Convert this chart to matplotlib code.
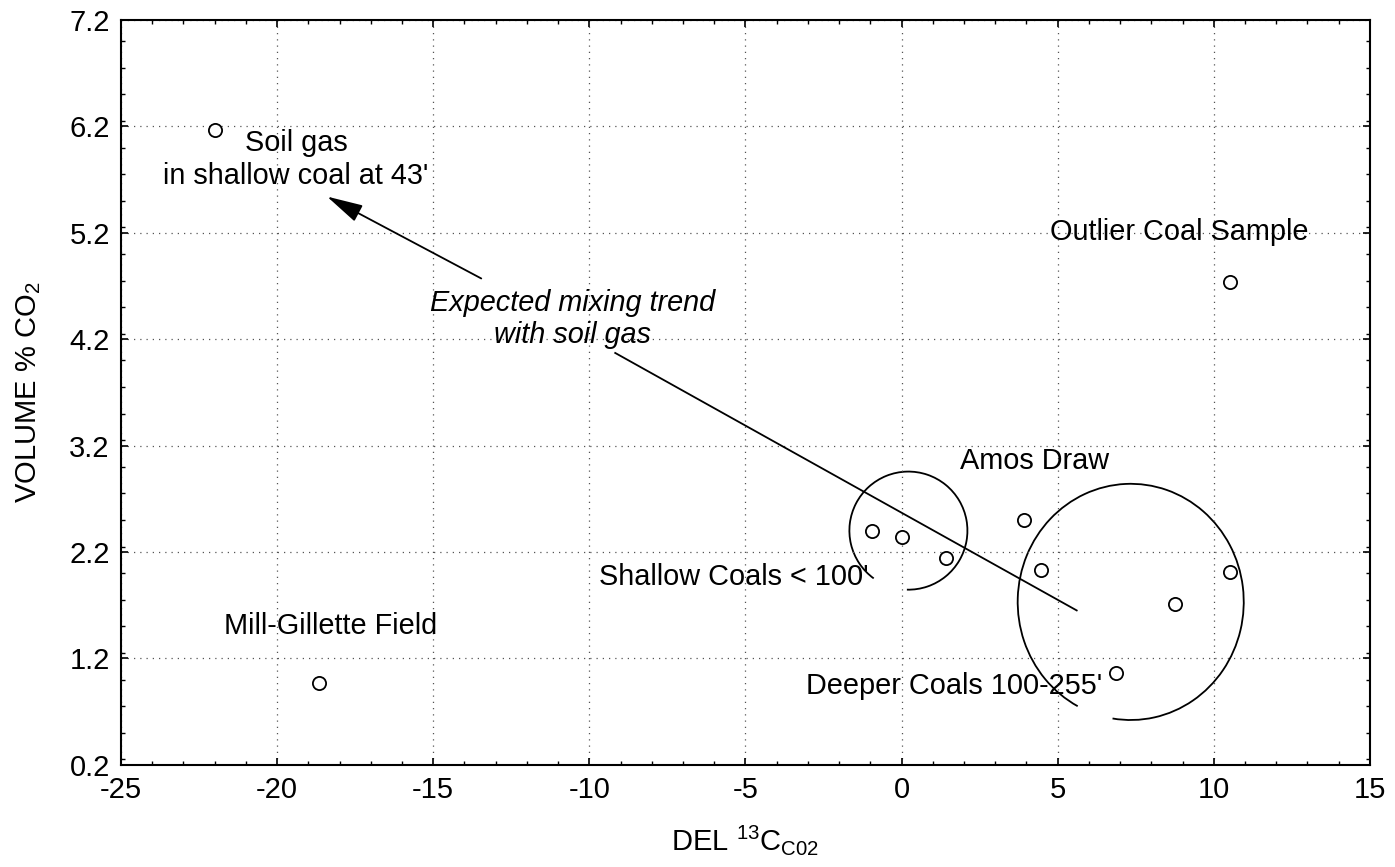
import matplotlib
matplotlib.use("Agg")
import matplotlib.pyplot as plt
from matplotlib.patches import Arc
from matplotlib.ticker import MultipleLocator

plt.rcParams['font.family'] = ['Liberation Sans', 'DejaVu Sans']
plt.rcParams['mathtext.fontset'] = 'custom'
plt.rcParams['mathtext.rm'] = 'Liberation Sans'
plt.rcParams['mathtext.it'] = 'Liberation Sans:italic'

# data: delta 13C of CO2 and volume % CO2
del13c = [-22.0, -18.65, -0.93, 0.0, 1.41, 3.91, 4.46, 6.86, 8.75, 10.51, 10.51]
vol_co2 = [6.17, 0.97, 2.40, 2.34, 2.14, 2.50, 2.03, 1.06, 1.71, 2.01, 4.74]

x_ticks = [-25, -20, -15, -10, -5, 0, 5, 10, 15]
y_ticks = [0.2, 1.2, 2.2, 3.2, 4.2, 5.2, 6.2, 7.2]

fig = plt.figure(figsize=(13.95, 8.67), dpi=100)
ax = fig.add_axes([0.0867, 0.118, 0.8953, 0.859])

ax.plot(del13c, vol_co2, linestyle='none', marker='o', markersize=9.5,
        markerfacecolor='white', markeredgecolor='black', markeredgewidth=1.3, zorder=5)

ax.set_xlim(-25, 15)
ax.set_ylim(0.2, 7.2)
ax.set_xticks(x_ticks)
ax.set_yticks(y_ticks)
ax.set_xticklabels([str(v) for v in x_ticks])
ax.set_yticklabels([f"{v:.1f}" for v in y_ticks])
ax.xaxis.set_minor_locator(MultipleLocator(1))
ax.yaxis.set_minor_locator(MultipleLocator(0.25))
ax.tick_params(which='both', direction='in', top=True, right=True, labelsize=21, color='black')
ax.tick_params(which='major', length=5, width=1.2, pad=8)
ax.tick_params(which='minor', length=3, width=1.0)
for s in ax.spines.values():
    s.set_linewidth(1.5)
ax.grid(True, which='major', linestyle=(0, (1, 4)), color='#555555', linewidth=0.9)

ax.set_xlabel(r"DEL $^{13}$C$_{\mathrm{C02}}$", fontsize=21, labelpad=14)
ax.set_ylabel(r"VOLUME % CO$_2$", fontsize=21, labelpad=19)

# group circles
ax.add_patch(Arc((0.22, 2.40), 3.78, 1.11, theta1=265, theta2=562, color='black', lw=1.3))
ax.add_patch(Arc((7.34, 1.73), 7.24, 2.22, theta1=242, theta2=570, color='black', lw=1.3))

# mixing trend line and arrow
ax.plot([5.61, -9.17], [1.65, 4.07], color='black', lw=1.3)
ax.annotate('', xy=(-18.4, 5.54), xytext=(-13.46, 4.77),
            arrowprops=dict(arrowstyle='-|>,head_length=0.8,head_width=0.2', color='black',
                            lw=1.3, mutation_scale=28, shrinkA=0, shrinkB=0))

fs = 20.8
ax.text(-19.39, 5.89, "Soil gas\nin shallow coal at 43'", ha='center', va='center', fontsize=fs, linespacing=1.2)
ax.text(8.91, 5.21, "Outlier Coal Sample", ha='center', va='center', fontsize=fs)
ax.text(-10.54, 4.39, "Expected mixing trend\nwith soil gas", ha='center', va='center', fontsize=fs,
        style='italic', linespacing=1.2)
ax.text(4.26, 3.05, "Amos Draw", ha='center', va='center', fontsize=fs)
ax.text(-5.38, 1.96, "Shallow Coals < 100'", ha='center', va='center', fontsize=fs)
ax.text(1.70, 0.94, "Deeper Coals 100-255'", ha='center', va='center', fontsize=fs)
ax.text(-18.27, 1.50, "Mill-Gillette Field", ha='center', va='center', fontsize=fs)

fig.savefig("out.png", dpi=100)
